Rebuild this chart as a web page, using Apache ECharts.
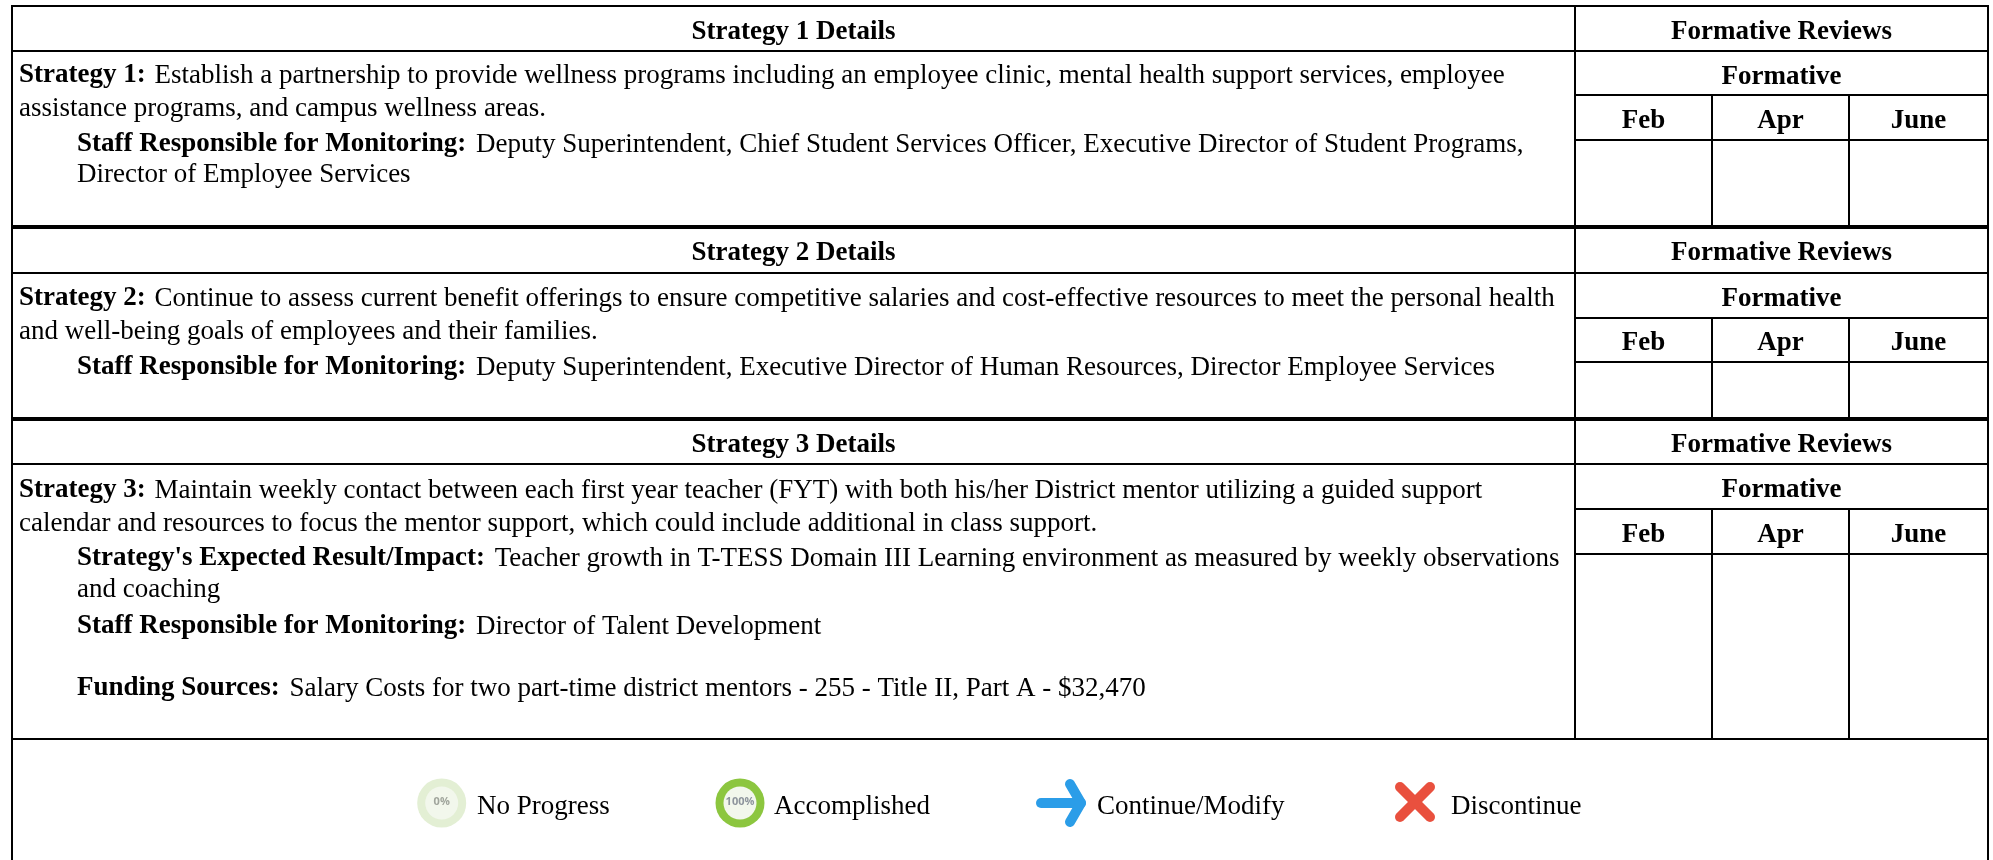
<!DOCTYPE html>
<html><head><meta charset="utf-8">
<style>html,body{margin:0;padding:0;background:#fff}#c{width:1993px;height:860px}</style>
<script src="https://cdn.jsdelivr.net/npm/echarts@6/dist/echarts.min.js"></script>
</head><body><div id="c"></div>
<script>
const sectionTitles = ['Strategy 1 Details','Strategy 2 Details','Strategy 3 Details'];
const reviewTitle = 'Formative Reviews';
const subTitle = 'Formative';
const months = ['Feb','Apr','June'];
const strategy1Lines = [
 [['Strategy 1:',' Establish a partnership to provide wellness programs including an employee clinic, mental health support services, employee'],0],
 [['','assistance programs, and campus wellness areas.'],0],
 [['Staff Responsible for Monitoring:',' Deputy Superintendent, Chief Student Services Officer, Executive Director of Student Programs,'],1],
 [['','Director of Employee Services'],1]
];
const strategy2Lines = [
 [['Strategy 2:',' Continue to assess current benefit offerings to ensure competitive salaries and cost-effective resources to meet the personal health'],0],
 [['','and well-being goals of employees and their families.'],0],
 [['Staff Responsible for Monitoring:',' Deputy Superintendent, Executive Director of Human Resources, Director Employee Services'],1]
];
const strategy3Lines = [
 [['Strategy 3:',' Maintain weekly contact between each first year teacher (FYT) with both his/her District mentor utilizing a guided support'],0],
 [['','calendar and resources to focus the mentor support, which could include additional in class support.'],0],
 [["Strategy's Expected Result/Impact:",' Teacher growth in T-TESS Domain III Learning environment as measured by weekly observations'],1],
 [['','and coaching'],1],
 [['Staff Responsible for Monitoring:',' Director of Talent Development'],1],
 [['Funding Sources:',' Salary Costs for two part-time district mentors - 255 - Title II, Part A - $32,470'],1]
];
const legendLabels = ['No Progress','Accomplished','Continue/Modify','Discontinue'];
const gaugeLabels = ['0%','100%'];

// layout
const L=12,R=1988,C1=1575,C2=1712,C3=1849,B=860;
const FONT='"Liberation Serif","Times New Roman",serif';
const sections=[
 {top:6,head:51,form:95,mon:140,bot:227,lines:strategy1Lines,ys:[75.5,108.5,144.5,174.5]},
 {top:227,head:273,form:318,mon:362,bot:419,lines:strategy2Lines,ys:[298.5,331.5,367.5]},
 {top:419,head:464,form:509,mon:554,bot:739,lines:strategy3Lines,ys:[490.5,523.5,558.5,589.5,626.5,688.5]}
];
const g=[];
function line(x1,y1,x2,y2,w){g.push({type:'line',silent:true,shape:{x1,y1,x2,y2},style:{stroke:'#000',lineWidth:w||2}});}
function ctext(t,x,y,bold,size){g.push({type:'text',silent:true,x,y,style:{text:t,fill:'#000',font:(bold?'bold ':'')+(size||27)+'px '+FONT,align:'center',verticalAlign:'middle'}});}
function rtext(parts,x,y,indented){
  const t=(parts[0]?'{b|'+parts[0]+'}{n|'+parts[1]+'}':'{m|'+parts[1]+'}');
  g.push({type:'text',silent:true,x,y,style:{text:t,align:'left',verticalAlign:'middle',rich:{
    b:{font:'bold 27px '+FONT,fill:'#000'},
    n:{font:'27px '+FONT,fill:'#000',padding:[0,0,0,indented?3:2]},
    m:{font:'27px '+FONT,fill:'#000'}}}});
}
sections.forEach((s,i)=>{
  line(L,s.top,R,s.top,i?4:2);
  line(L,s.head,R,s.head,2);
  line(C1,s.form,R,s.form,2);
  line(C1,s.mon,R,s.mon,2);
  line(C1,s.top,C1,s.bot,2);
  line(C2,s.form,C2,s.bot,2);
  line(C3,s.form,C3,s.bot,2);
  ctext(sectionTitles[i],(L+C1)/2,(s.top+s.head)/2+3.5,true);
  ctext(reviewTitle,(C1+R)/2,(s.top+s.head)/2+3.5,true);
  ctext(subTitle,(C1+R)/2,(s.head+s.form)/2+4,true);
  ctext(months[0],(C1+C2)/2,(s.form+s.mon)/2+3.5,true);
  ctext(months[1],(C2+C3)/2,(s.form+s.mon)/2+3.5,true);
  ctext(months[2],(C3+R)/2,(s.form+s.mon)/2+3.5,true);
  s.lines.forEach((l,j)=>rtext(l[0],l[1]?77:19,s.ys[j],l[1]));
});
line(L,739,R,739,2);
line(L,5,L,B,2);
line(R,5,R,B,2);

// legend
const ly=803;
function gauge(cx,ring,label,col){
  g.push({type:'circle',silent:true,shape:{cx,cy:ly,r:24.5},style:{fill:ring}});
  g.push({type:'circle',silent:true,shape:{cx,cy:ly,r:16.5},style:{fill:'#f2f7ec'}});
  g.push({type:'text',silent:true,x:cx,y:ly-1,style:{text:label,fill:col,font:'bold 11px "Open Sans",sans-serif',align:'center',verticalAlign:'middle'}});
}
gauge(441.7,'#e3efd4',gaugeLabels[0],'#a0a59c');
gauge(740,'#8cc63f',gaugeLabels[1],'#8d949c');
function stroke(points,color){g.push({type:'polyline',silent:true,shape:{points},style:{stroke:color,fill:null,lineWidth:10,lineCap:'round',lineJoin:'round'}});}
stroke([[1041,ly],[1081,ly]],'#2b9de8');
stroke([[1070,784],[1081,ly],[1070,822]],'#2b9de8');
stroke([[1400,787],[1430,817]],'#e9503e');
stroke([[1430,787],[1400,817]],'#e9503e');
[[477],[774],[1097],[1451]].forEach((p,i)=>{
  g.push({type:'text',silent:true,x:p[0],y:807,style:{text:legendLabels[i],fill:'#000',font:'27px '+FONT,align:'left',verticalAlign:'middle'}});
});

const chart=echarts.init(document.getElementById('c'),null,{renderer:'canvas'});
chart.setOption({animation:false,backgroundColor:'#fff',graphic:{elements:g}});
</script></body></html>
